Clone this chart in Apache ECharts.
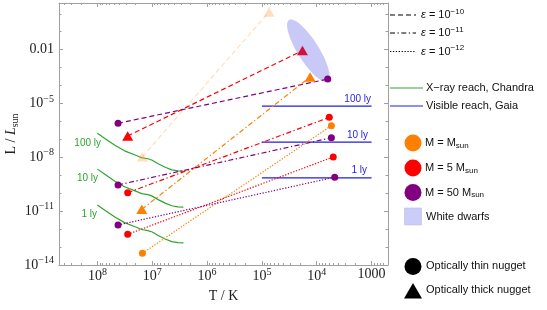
<!DOCTYPE html>
<html><head><meta charset="utf-8">
<script src="https://cdn.jsdelivr.net/npm/echarts@6/dist/echarts.min.js"></script>
<style>html,body{margin:0;padding:0;background:#fff}#c{width:547px;height:310px}</style>
</head><body><div id="c"></div>
<script>
// ---------- tick labels ----------
const xTicks = [1e8, 1e7, 1e6, 1e5, 1e4, 1e3];
const xTickBase = ['10', '10', '10', '10', '10', '1000'];
const xTickExp = ['8', '7', '6', '5', '4', ''];
const yTicks = [1e-2, 1e-5, 1e-8, 1e-11, 1e-14];
const yTickBase = ['0.01', '10', '10', '10', '10'];
const yTickExp = ['', '\u22125', '\u22128', '\u221211', '\u221214'];

// ---------- nugget tracks (T in K, L in L_sun) ----------
// epsilon = 1e-10 (dashed)
const T_e10_M1 = [1.51e7, 7.4e4],  L_e10_M1 = [1.07e-8, 1.26];
const T_e10_M5 = [2.8e7, 1.82e4],  L_e10_M5 = [1.55e-7, 8.9e-3];
const T_e10_M50 = [4.2e7, 6.3e3],  L_e10_M50 = [7.9e-7, 2.3e-4];
// epsilon = 1e-11 (dash-dot)
const T_e11_M1 = [1.55e7, 1.32e4], L_e11_M1 = [1.26e-11, 3.0e-4];
const T_e11_M5 = [2.8e7, 5.9e3],   L_e11_M5 = [1.07e-10, 1.7e-6];
const T_e11_M50 = [4.2e7, 5.4e3],  L_e11_M50 = [2.9e-10, 1.23e-7];
// epsilon = 1e-12 (dotted)
const T_e12_M1 = [1.51e7, 5.4e3],  L_e12_M1 = [4.5e-14, 5.8e-7];
const T_e12_M5 = [2.8e7, 5.0e3],   L_e12_M5 = [5.1e-13, 1.05e-8];
const T_e12_M50 = [4.2e7, 4.7e3],  L_e12_M50 = [1.7e-12, 7.8e-10];

// ---------- Chandra X-ray reach ----------
const T_chandra = [1e8, 7.2e7, 4.8e7, 3.2e7, 2.0e7, 1.55e7, 1.2e7, 1.0e7, 7.8e6, 5.8e6, 4.4e6, 3.4e6, 2.7e6];
const L_chandra_1ly = [2.2e-11, 1.1e-11, 4.7e-12, 2.3e-12, 1.3e-12, 9.5e-13, 8.3e-13, 6.9e-13, 4.4e-13, 2.8e-13, 2.0e-13, 1.75e-13, 1.7e-13];
const L_chandra_10ly = [2.2e-9, 1.1e-9, 4.7e-10, 2.3e-10, 1.3e-10, 9.5e-11, 8.3e-11, 6.9e-11, 4.4e-11, 2.8e-11, 2.0e-11, 1.75e-11, 1.7e-11];
const L_chandra_100ly = [2.2e-7, 1.1e-7, 4.7e-8, 2.3e-8, 1.3e-8, 9.5e-9, 8.3e-9, 6.9e-9, 4.4e-9, 2.8e-9, 2.0e-9, 1.75e-9, 1.7e-9];

// ---------- Gaia visible reach ----------
const T_gaia = [1e5, 1e3];
const L_gaia_1ly = [7.2e-10, 7.2e-10];
const L_gaia_10ly = [7.1e-8, 7.1e-8];
const L_gaia_100ly = [7.2e-6, 7.2e-6];

// ---------- White dwarfs (ends of the ellipse's long axis) ----------
const T_wd = [3.2e4, 6.3e3];
const L_wd = [0.45, 1.7e-4];

// ---------- build ----------
const lg = Math.log10;
const serif = 'Liberation Serif, Times New Roman, serif';
const sans = 'Liberation Sans, Arial, sans-serif';
const orange = '#FF8000', red = '#FF0000', purple = '#800080', crimson = '#D2103C';
const green = '#2EA52E', blue = '#1E1EE8', frame = '#A0A0A0';
const dashed = [5, 3], dashdot = [5, 2.5, 1.3, 2.5], dotted = [1.3, 1.6];
const CIRC = 7, TRI = [11, 9.5];

function pts(T, L) { return T.map((t, i) => [lg(t), lg(L[i])]); }

function track(T, L, color, dash, sym, extra) {
  extra = extra || {};
  const data = pts(T, L);
  if (extra.endColor) data[1] = { value: data[1], itemStyle: { color: extra.endColor } };
  return {
    type: 'line', data: data, symbol: sym === 'tri' ? 'triangle' : 'circle',
    symbolSize: sym === 'tri' ? TRI : CIRC, showSymbol: true, z: 4,
    lineStyle: { color: color, width: 1.2, type: dash, opacity: extra.opacity || 1 },
    itemStyle: { color: color, opacity: extra.opacity || 1 },
    silent: true, animation: false
  };
}
function reach(T, L, color, w) {
  return { type: 'line', data: pts(T, L), symbol: 'none', z: 3,
    lineStyle: { color: color, width: w }, silent: true, animation: false };
}

// minor log ticks
const xMinor = [], yMinor = [];
for (let n = 2; n <= 8; n++) for (let k = 2; k <= 9; k++) {
  const v = lg(k * Math.pow(10, n)); if (v > 2.7 && v < 8.7) xMinor.push(v);
}
for (let n = -13; n <= 0; n++) if (n % 3 !== 1) yMinor.push(n);
const xMajor = xTicks.map(lg), yMajor = yTicks.map(lg);

const labRich = {
  b: { fontFamily: serif, fontSize: 14, color: '#222' },
  s: { fontFamily: serif, fontSize: 10, color: '#222', padding: [0, 0, 9, 0] }
};
function fmt(vals, base, exp) {
  return function (v) {
    for (let i = 0; i < vals.length; i++) if (Math.abs(vals[i] - v) < 1e-6)
      return exp[i] ? '{b|' + base[i] + '}{s|' + exp[i] + '}' : '{b|' + base[i] + '}';
    return '';
  };
}
function xAx(pos, ticks, len, line, labels) {
  return {
    type: 'value', position: pos, inverse: true, min: 2.7, max: 8.7,
    splitLine: { show: false },
    axisLine: { show: line, onZero: false, lineStyle: { color: frame, width: 1 } },
    axisTick: { show: true, inside: true, length: len, customValues: ticks, lineStyle: { color: frame } },
    axisLabel: labels ? { show: true, customValues: xMajor, formatter: fmt(xMajor, xTickBase, xTickExp), rich: labRich, margin: 2 } : { show: false },
    name: labels ? 'T / K' : '', nameLocation: 'middle', nameGap: 24, nameMoveOverlap: false,
    nameTextStyle: { fontFamily: serif, fontSize: 14, color: '#222' }
  };
}
function yAx(pos, ticks, len, line, labels) {
  return {
    type: 'value', position: pos, min: -14, max: 0.6,
    splitLine: { show: false },
    axisLine: { show: line, onZero: false, lineStyle: { color: frame, width: 1 } },
    axisTick: { show: true, inside: true, length: len, customValues: ticks, lineStyle: { color: frame } },
    axisLabel: labels ? { show: true, customValues: yMajor, formatter: fmt(yMajor, yTickBase, yTickExp), rich: labRich, margin: 5 } : { show: false },
    name: labels ? '{r|L / }{i|L}{u|sun}' : '', nameLocation: 'middle', nameGap: 39, nameMoveOverlap: false,
    nameTextStyle: { rich: {
      r: { fontFamily: serif, fontSize: 14, color: '#222' },
      i: { fontFamily: serif, fontSize: 14, fontStyle: 'italic', color: '#222' },
      u: { fontFamily: serif, fontSize: 10, color: '#222', padding: [7, 0, 0, 0] } } }
  };
}

const series = [
  { type: 'custom', z: 1, silent: true, animation: false,
    data: [[lg(T_wd[0]), lg(L_wd[0]), lg(T_wd[1]), lg(L_wd[1])]],
    renderItem: function (params, api) {
      const p1 = api.coord([api.value(0), api.value(1)]);
      const p2 = api.coord([api.value(2), api.value(3)]);
      const cx = (p1[0] + p2[0]) / 2, cy = (p1[1] + p2[1]) / 2;
      const a = Math.hypot(p2[0] - p1[0], p2[1] - p1[1]) / 2, b = 10.5;
      const ang = Math.atan2(p2[1] - p1[1], p2[0] - p1[0]);
      const points = [];
      for (let i = 0; i < 72; i++) {
        const t = i / 72 * Math.PI * 2, ex = a * Math.cos(t), ey = b * Math.sin(t);
        points.push([cx + ex * Math.cos(ang) - ey * Math.sin(ang), cy + ex * Math.sin(ang) + ey * Math.cos(ang)]);
      }
      return { type: 'polygon', shape: { points: points }, style: { fill: '#C9C9F7' } };
    } },
  reach(T_chandra, L_chandra_1ly, green, 1.2),
  reach(T_chandra, L_chandra_10ly, green, 1.2),
  reach(T_chandra, L_chandra_100ly, green, 1.2),
  reach(T_gaia, L_gaia_1ly, blue, 1.3),
  reach(T_gaia, L_gaia_10ly, blue, 1.3),
  reach(T_gaia, L_gaia_100ly, blue, 1.3),
  track(T_e10_M1, L_e10_M1, orange, dashed, 'tri', { opacity: 0.25 }),
  track(T_e10_M5, L_e10_M5, red, dashed, 'tri', { endColor: crimson }),
  track(T_e10_M50, L_e10_M50, purple, dashed, 'circ'),
  track(T_e11_M1, L_e11_M1, orange, dashdot, 'tri'),
  track(T_e11_M5, L_e11_M5, red, dashdot, 'circ'),
  track(T_e11_M50, L_e11_M50, purple, dashdot, 'circ'),
  track(T_e12_M1, L_e12_M1, orange, dotted, 'circ'),
  track(T_e12_M5, L_e12_M5, red, dotted, 'circ'),
  track(T_e12_M50, L_e12_M50, purple, dotted, 'circ')
];

// ---------- legend & annotations ----------
const lr = {
  t: { fontFamily: sans, fontSize: 11, color: '#111' },
  e: { fontFamily: sans, fontSize: 11, fontStyle: 'italic', color: '#111' },
  p: { fontFamily: sans, fontSize: 8, color: '#111', padding: [0, 0, 7, 0] },
  s: { fontFamily: sans, fontSize: 8, color: '#111', padding: [5, 0, 0, 0] }
};
function gtext(x, y, text, opt) {
  opt = opt || {};
  return { type: 'text', x: x, y: y, silent: true, style: {
    text: text, rich: opt.rich, fill: opt.fill || '#111', font: opt.font || ('11px ' + sans),
    align: opt.align || 'left', verticalAlign: 'middle' } };
}
function gline(x1, x2, y, color, dash) {
  return { type: 'line', silent: true, shape: { x1: x1, y1: y, x2: x2, y2: y },
    style: { stroke: color, lineWidth: 1.2, lineDash: dash || null } };
}
const graphic = [
  gline(390, 416, 15, '#000', dashed), gtext(421, 15, '{e|\u03b5}{t| = 10}{p|\u221210}', { rich: lr }),
  gline(390, 416, 33, '#000', dashdot), gtext(421, 33, '{e|\u03b5}{t| = 10}{p|\u221211}', { rich: lr }),
  gline(390, 416, 51.5, '#000', dotted), gtext(421, 51.5, '{e|\u03b5}{t| = 10}{p|\u221212}', { rich: lr }),
  gline(390, 423, 88, green), gtext(426, 88, 'X\u2212ray reach, Chandra'),
  gline(390, 423, 106, blue), gtext(426, 106, 'Visible reach, Gaia'),
  { type: 'circle', silent: true, shape: { cx: 413, cy: 143, r: 8.5 }, style: { fill: orange } },
  gtext(425, 143, '{t|M = M}{s|sun}', { rich: lr }),
  { type: 'circle', silent: true, shape: { cx: 413, cy: 168, r: 8.5 }, style: { fill: red } },
  gtext(425, 168, '{t|M = 5 M}{s|sun}', { rich: lr }),
  { type: 'circle', silent: true, shape: { cx: 413, cy: 192.5, r: 8.5 }, style: { fill: purple } },
  gtext(425, 192.5, '{t|M = 50 M}{s|sun}', { rich: lr }),
  { type: 'rect', silent: true, shape: { x: 404.5, y: 208, width: 17, height: 17 }, style: { fill: '#CCCCF8', stroke: '#BDBDEA', lineWidth: 0.6 } },
  gtext(426, 216.5, 'White dwarfs'),
  { type: 'circle', silent: true, shape: { cx: 413, cy: 266.5, r: 8.5 }, style: { fill: '#000' } },
  gtext(426, 265.5, 'Optically thin nugget'),
  { type: 'polygon', silent: true, shape: { points: [[404, 298.5], [422, 298.5], [413, 283]] }, style: { fill: '#000' } },
  gtext(426, 290, 'Optically thick nugget'),
  gtext(101, 143, '100 ly', { fill: green, font: '10px ' + sans, align: 'right' }),
  gtext(98, 178, '10 ly', { fill: green, font: '10px ' + sans, align: 'right' }),
  gtext(97, 214, '1 ly', { fill: green, font: '10px ' + sans, align: 'right' }),
  gtext(371, 99, '100 ly', { fill: blue, font: '10px ' + sans, align: 'right' }),
  gtext(368, 135, '10 ly', { fill: blue, font: '10px ' + sans, align: 'right' }),
  gtext(367, 170.5, '1 ly', { fill: blue, font: '10px ' + sans, align: 'right' })
];

const chart = echarts.init(document.getElementById('c'), null, { renderer: 'canvas' });
chart.setOption({
  animation: false,
  backgroundColor: '#fff',
  grid: { left: 59, right: 159, top: 3, bottom: 45, containLabel: false, outerBoundsMode: 'none' },
  xAxis: [
    xAx('bottom', xMajor, 4, true, true), xAx('bottom', xMinor, 2, false, false),
    xAx('top', xMajor, 4, true, false), xAx('top', xMinor, 2, false, false)
  ],
  yAxis: [
    yAx('left', yMajor, 4, true, true), yAx('left', yMinor, 2.5, false, false),
    yAx('right', yMajor, 4, true, false), yAx('right', yMinor, 2.5, false, false)
  ],
  series: series,
  graphic: graphic
});
</script></body></html>
